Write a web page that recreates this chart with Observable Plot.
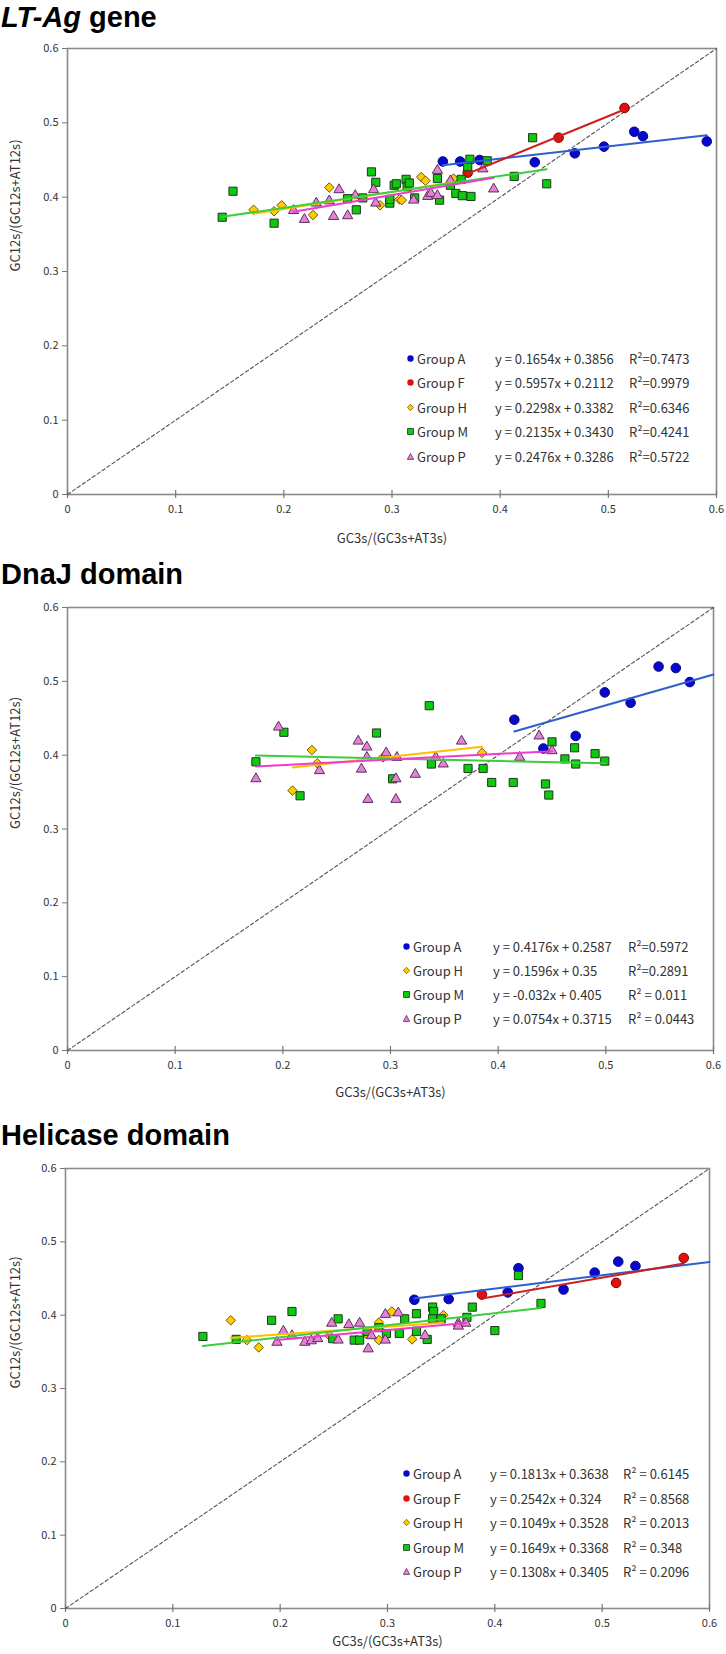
<!DOCTYPE html>
<html>
<head>
<meta charset="utf-8">
<script src="https://cdn.jsdelivr.net/npm/d3@7"></script>
<script src="https://cdn.jsdelivr.net/npm/@observablehq/plot@0.6"></script>
<style>
  html, body { margin: 0; padding: 0; background: #fff; }
  #page { position: relative; width: 726px; height: 1654px; overflow: hidden; font-family: 'Noto Sans CJK KR', 'Noto Sans', sans-serif; }
  .svgwrap { position: absolute; left: 0; }
  .title { position: absolute; left: 1px; font-family: 'Liberation Sans', Arial, sans-serif; font-weight: bold; font-size: 29px; line-height: 29px; color: #000; white-space: nowrap; }
  .lg { position: absolute; font-size: 13px; line-height: 16px; height: 16px; color: #333; white-space: nowrap; }
  .lg svg { position: absolute; top: 4px; }
</style>
</head>
<body>
<div id="page"></div>
<script>
// ---------- data ----------
const groups = ["A", "F", "H", "M", "P"];
const xTicks = [0, 0.1, 0.2, 0.3, 0.4, 0.5, 0.6];
const yTicks = [0, 0.1, 0.2, 0.3, 0.4, 0.5, 0.6];
const diagonal = [[0, 0], [0.6, 0.6]];

// LT-Ag gene
const ltA = [[0.347,0.448],[0.363,0.448],[0.381,0.450],[0.432,0.447],[0.469,0.459],[0.496,0.468],[0.524,0.488],[0.532,0.482],[0.591,0.475]];
const ltF = [[0.370,0.433],[0.454,0.480],[0.515,0.520]];
const ltH = [[0.172,0.383],[0.191,0.381],[0.198,0.389],[0.227,0.376],[0.242,0.413],[0.289,0.389],[0.307,0.397],[0.309,0.396],[0.327,0.427],[0.331,0.422],[0.357,0.425]];
const ltM = [[0.143,0.373],[0.153,0.408],[0.191,0.365],[0.259,0.398],[0.267,0.383],[0.273,0.399],[0.281,0.434],[0.285,0.420],[0.298,0.392],[0.298,0.397],[0.302,0.416],[0.304,0.418],[0.313,0.424],[0.314,0.414],[0.316,0.419],[0.321,0.399],[0.342,0.425],[0.344,0.396],[0.354,0.416],[0.359,0.405],[0.364,0.424],[0.365,0.402],[0.370,0.441],[0.372,0.451],[0.373,0.401],[0.388,0.449],[0.413,0.428],[0.430,0.480],[0.443,0.418]];
const ltP = [[0.209,0.382],[0.219,0.370],[0.230,0.392],[0.242,0.395],[0.246,0.374],[0.251,0.410],[0.259,0.375],[0.266,0.402],[0.283,0.410],[0.285,0.392],[0.320,0.396],[0.333,0.401],[0.336,0.405],[0.342,0.402],[0.342,0.436],[0.354,0.422],[0.384,0.438],[0.394,0.411]];
const ltTrend = [
  {g:"A", m:0.1654, b:0.3856, x0:0.347, x1:0.591},
  {g:"F", m:0.5957, b:0.2112, x0:0.370, x1:0.515},
  {g:"H", m:0.2298, b:0.3382, x0:0.172, x1:0.357},
  {g:"M", m:0.2135, b:0.3430, x0:0.143, x1:0.443},
  {g:"P", m:0.2476, b:0.3286, x0:0.209, x1:0.394}
];
const ltEq = ["y = 0.1654x + 0.3856","y = 0.5957x + 0.2112","y = 0.2298x + 0.3382","y = 0.2135x + 0.3430","y = 0.2476x + 0.3286"];
const ltR2 = ["R²=0.7473","R²=0.9979","R²=0.6346","R²=0.4241","R²=0.5722"];

// DnaJ domain
const djA = [[0.415,0.448],[0.442,0.409],[0.472,0.426],[0.499,0.485],[0.523,0.471],[0.549,0.520],[0.565,0.518],[0.578,0.499]];
const djH = [[0.209,0.352],[0.227,0.407],[0.232,0.389],[0.293,0.397],[0.385,0.403]];
const djM = [[0.175,0.391],[0.201,0.431],[0.216,0.345],[0.287,0.430],[0.302,0.368],[0.336,0.467],[0.338,0.388],[0.372,0.382],[0.386,0.382],[0.394,0.363],[0.414,0.363],[0.444,0.361],[0.447,0.346],[0.450,0.418],[0.462,0.395],[0.471,0.410],[0.472,0.388],[0.490,0.402],[0.499,0.392]];
const djP = [[0.175,0.368],[0.196,0.438],[0.234,0.379],[0.270,0.419],[0.273,0.381],[0.278,0.411],[0.278,0.397],[0.279,0.340],[0.296,0.403],[0.305,0.368],[0.305,0.340],[0.306,0.397],[0.323,0.374],[0.342,0.397],[0.349,0.388],[0.366,0.419],[0.420,0.397],[0.438,0.426],[0.450,0.406]];
const djTrend = [
  {g:"A", m:0.4176, b:0.2587, x0:0.415, x1:0.600},
  {g:"H", m:0.1596, b:0.35, x0:0.209, x1:0.385},
  {g:"M", m:-0.032, b:0.405, x0:0.175, x1:0.499},
  {g:"P", m:0.0754, b:0.3715, x0:0.175, x1:0.450}
];
const djEq = ["y = 0.4176x + 0.2587","y = 0.1596x + 0.35","y = -0.032x + 0.405","y = 0.0754x + 0.3715"];
const djR2 = ["R²=0.5972","R²=0.2891","R² = 0.011","R² = 0.0443"];

// Helicase domain
const heA = [[0.325,0.421],[0.357,0.422],[0.412,0.431],[0.422,0.464],[0.464,0.435],[0.493,0.458],[0.515,0.473],[0.531,0.467]];
const heF = [[0.388,0.428],[0.513,0.444],[0.576,0.478]];
const heH = [[0.154,0.393],[0.169,0.366],[0.180,0.356],[0.246,0.372],[0.280,0.375],[0.292,0.390],[0.292,0.366],[0.304,0.405],[0.323,0.367],[0.352,0.400]];
const heM = [[0.128,0.371],[0.159,0.367],[0.192,0.393],[0.211,0.405],[0.249,0.368],[0.254,0.395],[0.269,0.366],[0.274,0.366],[0.281,0.378],[0.292,0.383],[0.299,0.375],[0.311,0.375],[0.316,0.395],[0.327,0.402],[0.327,0.378],[0.337,0.367],[0.342,0.411],[0.343,0.405],[0.342,0.395],[0.350,0.395],[0.374,0.397],[0.379,0.411],[0.400,0.379],[0.422,0.454],[0.443,0.416]];
const heP = [[0.197,0.363],[0.203,0.378],[0.211,0.372],[0.223,0.363],[0.229,0.365],[0.235,0.368],[0.248,0.389],[0.254,0.366],[0.264,0.387],[0.274,0.389],[0.282,0.354],[0.285,0.372],[0.298,0.401],[0.298,0.366],[0.310,0.403],[0.335,0.372],[0.366,0.389],[0.373,0.389],[0.366,0.385]];
const heTrend = [
  {g:"A", m:0.1813, b:0.3638, x0:0.325, x1:0.600},
  {g:"F", m:0.2542, b:0.324, x0:0.388, x1:0.576},
  {g:"H", m:0.1049, b:0.3528, x0:0.154, x1:0.352},
  {g:"M", m:0.1649, b:0.3368, x0:0.128, x1:0.443},
  {g:"P", m:0.1308, b:0.3405, x0:0.197, x1:0.373}
];
const heEq = ["y = 0.1813x + 0.3638","y = 0.2542x + 0.324","y = 0.1049x + 0.3528","y = 0.1649x + 0.3368","y = 0.1308x + 0.3405"];
const heR2 = ["R² = 0.6145","R² = 0.8568","R² = 0.2013","R² = 0.348","R² = 0.2096"];

// ---------- styles ----------
const FONT = "'Noto Sans CJK KR', 'Noto Sans', sans-serif";
const sty = {
  A: {symbol:"circle",   fill:"#0808cc", stroke:"#06068a", r:4.8, line:"#2f5fcf"},
  F: {symbol:"circle",   fill:"#e01010", stroke:"#800000", r:4.8, line:"#cc2020"},
  H: {symbol:"diamond2", fill:"#ffcc00", stroke:"#6b5a10", r:4.3, line:"#ffbf00"},
  M: {symbol:"square",   fill:"#10c810", stroke:"#1b3a1b", r:4.6, line:"#3ccf3c"},
  P: {symbol:"triangle", fill:"#e680d8", stroke:"#553355", r:3.8, line:"#f03ccc"}
};

const page = document.getElementById("page");

function addPanel(cfg) {
  const {top, height, mt, mb, ml, mr, series, trend, xLabelDy} = cfg;
  const marks = [
    Plot.frame({stroke: "#8a8a8a", strokeWidth: 1.6}),
    Plot.axisX(xTicks, {tickSize: 0, tickPadding: 11, label: null, fontSize: 11, fill: "#333",
      tickFormat: d => d === 0 ? "0" : d3.format(".1f")(d)}),
    Plot.ruleX(xTicks, {x: d => d, y1: 0, y2: 0, insetTop: -4, insetBottom: -4, stroke: "#777", strokeWidth: 1.2}),
    Plot.axisY(yTicks, {tickSize: 5, tickPadding: 4, label: null, fontSize: 11, fill: "#333", stroke: "#777",
      tickFormat: d => d === 0 ? "0" : d3.format(".1f")(d)}),
    Plot.line(diagonal, {x: d => d[0], y: d => d[1], stroke: "#555", strokeWidth: 1.1, strokeDasharray: "3.5,2.5"}),
    Plot.text(["GC3s/(GC3s+AT3s)"], {frameAnchor: "bottom", dy: xLabelDy, fontSize: 13, fill: "#333"}),
    Plot.text(["GC12s/(GC12s+AT12s)"], {frameAnchor: "left", dx: -(ml - 15), rotate: -90, fontSize: 13, fill: "#333"})
  ];
  for (const [g, data] of series) {
    const s = sty[g];
    marks.push(Plot.dot(data, {x: d => d[0], y: d => d[1], symbol: s.symbol, r: s.r, fill: s.fill, stroke: s.stroke, strokeWidth: 1}));
  }
  for (const t of trend) {
    const pts = [[t.x0, t.m * t.x0 + t.b], [t.x1, t.m * t.x1 + t.b]];
    marks.push(Plot.line(pts, {x: d => d[0], y: d => d[1], stroke: sty[t.g].line, strokeWidth: 2}));
  }
  const chart = Plot.plot({
    width: 726, height, marginTop: mt, marginBottom: mb, marginLeft: ml, marginRight: mr,
    x: {domain: [0, 0.6]}, y: {domain: [0, 0.6]},
    style: {fontFamily: FONT, fontSize: "11px", color: "#333", background: "transparent", overflow: "visible"},
    marks
  });
  const wrap = document.createElement("div");
  wrap.className = "svgwrap";
  wrap.style.top = top + "px";
  wrap.appendChild(chart);
  page.appendChild(wrap);
}

function addTitle(html, top) {
  const d = document.createElement("div");
  d.className = "title";
  d.style.top = top + "px";
  d.innerHTML = html;
  page.appendChild(d);
}

function markerSvg(g) {
  const s = sty[g];
  let shape;
  if (s.symbol === "circle") shape = `<circle cx="3.5" cy="3.5" r="3.2" fill="${s.fill}"/>`;
  else if (s.symbol === "square") shape = `<rect x="0.6" y="0.6" width="5.8" height="5.8" fill="${s.fill}" stroke="${s.stroke}" stroke-width="0.8"/>`;
  else if (s.symbol === "diamond2") shape = `<path d="M3.5,0.3L6.7,3.5L3.5,6.7L0.3,3.5Z" fill="${s.fill}" stroke="${s.stroke}" stroke-width="0.8"/>`;
  else shape = `<path d="M3.5,0.4L6.7,6.4L0.3,6.4Z" fill="${s.fill}" stroke="${s.stroke}" stroke-width="0.8"/>`;
  return `<svg width="7" height="7" viewBox="0 0 7 7">${shape}</svg>`;
}

function addLegend(cfg) {
  const {gs, eq, r2, rows, xm, xt, xe, xr} = cfg;
  gs.forEach((g, i) => {
    const cy = rows[i];
    const m = document.createElement("div");
    m.className = "lg"; m.style.top = (cy - 8) + "px"; m.style.left = (xm - 3.5) + "px";
    m.innerHTML = markerSvg(g);
    page.appendChild(m);
    const parts = [[xt, "Group " + g], [xe, eq[i]], [xr, r2[i]]];
    for (const [x, txt] of parts) {
      const d = document.createElement("div");
      d.className = "lg"; d.style.top = (cy - 8) + "px"; d.style.left = x + "px";
      d.textContent = txt;
      page.appendChild(d);
    }
  });
}

// ---------- panel 1 ----------
addTitle('<i>LT-Ag</i> gene', 3);
addPanel({top: 0, height: 560, mt: 48, mb: 66, ml: 67, mr: 10, xLabelDy: 48,
  series: [["A", ltA], ["F", ltF], ["H", ltH], ["M", ltM], ["P", ltP]], trend: ltTrend});
addLegend({gs: groups, eq: ltEq, r2: ltR2, rows: [359, 383, 408, 432, 457], xm: 410, xt: 417, xe: 495, xr: 629});

// ---------- panel 2 ----------
addTitle('DnaJ domain', 560);
addPanel({top: 560, height: 556, mt: 47, mb: 66, ml: 67, mr: 13, xLabelDy: 46,
  series: [["A", djA], ["H", djH], ["M", djM], ["P", djP]], trend: djTrend});
addLegend({gs: ["A", "H", "M", "P"], eq: djEq, r2: djR2, rows: [947, 971, 995, 1019], xm: 406, xt: 413, xe: 493, xr: 628});

// ---------- panel 3 ----------
addTitle('Helicase domain', 1121);
addPanel({top: 1116, height: 538, mt: 52, mb: 46, ml: 65, mr: 17, xLabelDy: 37,
  series: [["A", heA], ["F", heF], ["H", heH], ["M", heM], ["P", heP]], trend: heTrend});
addLegend({gs: groups, eq: heEq, r2: heR2, rows: [1474, 1499, 1523, 1548, 1572], xm: 406, xt: 413, xe: 490, xr: 623});
</script>
</body>
</html>
